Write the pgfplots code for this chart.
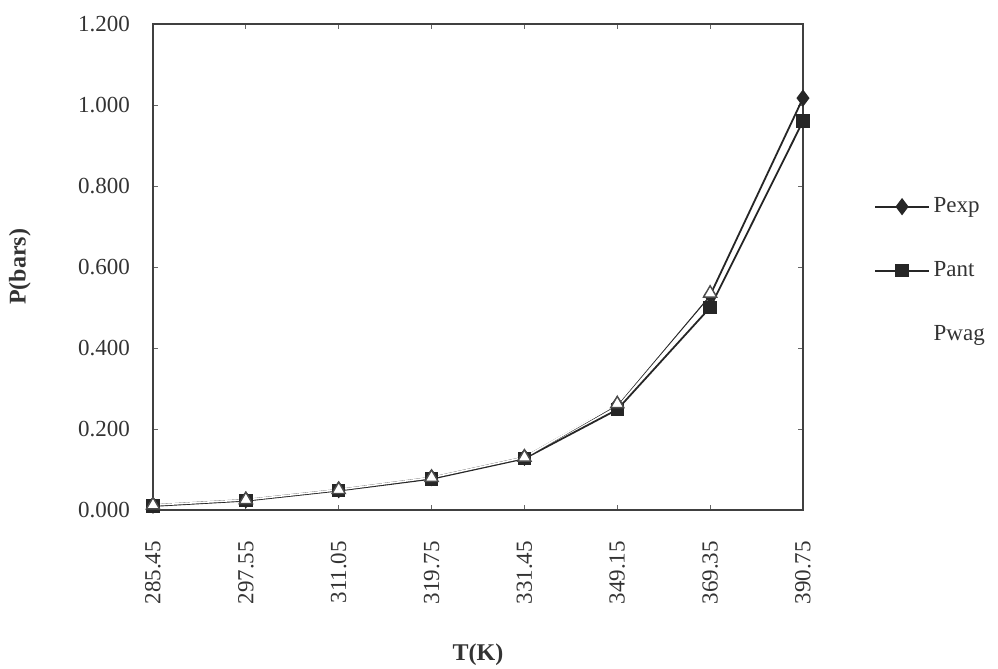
\documentclass[border=0pt]{standalone}
\usepackage{pgfplots}
\pgfplotsset{compat=1.18}
\usepackage{fontspec}
\setmainfont{Liberation Serif}
\begin{document}
\begin{tikzpicture}
\useasboundingbox (-76.5pt,-79.5pt) rectangle (422.5pt,255pt);
\begin{axis}[
  at={(0,0)}, anchor=south west,
  scale only axis, width=325pt, height=243pt,
  xmin=0, xmax=7, ymin=0, ymax=1.2,
  xtick={0,...,7},
  xticklabels={285.45,297.55,311.05,319.75,331.45,349.15,369.35,390.75},
  ytick={0,0.2,...,1.2},
  yticklabel style={/pgf/number format/.cd, fixed, fixed zerofill, precision=3, assume math mode=true},
  tick label style={font=\fontsize{11.5}{13}\selectfont, color=black!80},
  xticklabel style={rotate=90, anchor=east},
  xticklabel shift=12pt,
  yticklabel shift=8pt,
  tick align=inside, major tick length=2.5pt,
  every tick/.style={black!60, thin},
  axis line style={black!75, line width=0.8pt},
  every axis y label/.style={at={(axis description cs:-0.205,0.5)}, rotate=90, anchor=center, font=\bfseries\fontsize{12}{14}\selectfont, color=black!80},
  every axis x label/.style={at={(axis description cs:0.5,-0.298)}, anchor=center, font=\bfseries\fontsize{12}{14}\selectfont, color=black!80},
  xlabel={T(K)}, ylabel={P(bars)},
  legend style={at={(axis description cs:1.10,0.66)}, anchor=north west, draw=none, fill=none,
    font=\fontsize{11.5}{13}\selectfont, text=black!80, row sep=19pt,
    legend cell align=left},
  legend image code/.code={\draw[mark repeat=2,mark phase=2] plot coordinates {(0cm,0cm)(0.47cm,0cm)(0.94cm,0cm)};},
  clip=false,
]
\addplot[black!85, line width=0.9pt, mark=diamond*, mark size=3.6pt, mark options={fill=black!85, solid}]
  coordinates {(0,0.012)(1,0.025)(2,0.050)(3,0.080)(4,0.130)(5,0.260)(6,0.530)(7,1.017)};
\addlegendentry{Pexp}
\addplot[black!85, line width=0.9pt, mark=square*, mark size=2.9pt, mark options={fill=black!85, solid}]
  coordinates {(0,0.010)(1,0.023)(2,0.048)(3,0.077)(4,0.127)(5,0.248)(6,0.500)(7,0.960)};
\addlegendentry{Pant}
\addplot[white, line width=0.8pt, mark=triangle*, mark size=3.8pt, mark options={fill=white, draw=black!70, line width=0.7pt},
  legend image code/.code={}]
  coordinates {(0,0.012)(1,0.025)(2,0.050)(3,0.080)(4,0.130)(5,0.262)(6,0.535)};
\addlegendentry{Pwag}
\end{axis}
\end{tikzpicture}
\end{document}
